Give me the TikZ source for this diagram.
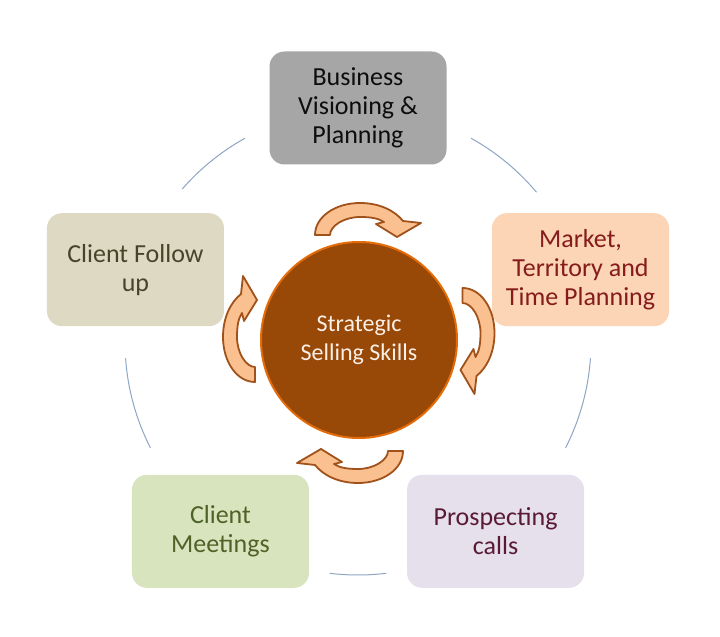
\documentclass[tikz,border=0pt]{standalone}
\usepackage{fontspec}
\usepackage{tikz}
\setmainfont{Carlito}

\definecolor{visfill}{HTML}{A6A6A6}
\definecolor{vistext}{HTML}{0D0D0D}
\definecolor{mktfill}{HTML}{FBD5B5}
\definecolor{mkttext}{HTML}{861B1B}
\definecolor{prosfill}{HTML}{E5E0EC}
\definecolor{prostext}{HTML}{5A1A35}
\definecolor{meetfill}{HTML}{D7E4BD}
\definecolor{meettext}{HTML}{4F6228}
\definecolor{follfill}{HTML}{DDD9C3}
\definecolor{folltext}{HTML}{494429}
\definecolor{hubfill}{HTML}{984807}
\definecolor{hubedge}{HTML}{E36C09}
\definecolor{hubtext}{HTML}{FBEFE6}
\definecolor{turnfill}{HTML}{FAC090}
\definecolor{turnedge}{HTML}{A0521A}
\definecolor{ringblue}{HTML}{8EA6C4}

\tikzset{
  stage/.style={rounded corners=15pt,minimum width=177pt,minimum height=113pt,
    inner sep=3pt,align=center,font=\fontsize{26}{29}\selectfont},
  core/.style={circle,minimum size=196pt,fill=hubfill,draw=hubedge,line width=2pt,
    align=center,text=hubtext,font=\fontsize{24}{28}\selectfont},
  ring/.style={draw=ringblue,line width=1pt},
  turn/.style={fill=turnfill,draw=turnedge,line width=1.8pt,line join=round}
}

% one curved arrow, centred at (#1,#2), turned by #3
\newcommand{\turnarrow}[3]{%
  \begin{scope}[shift={(#1,#2)},rotate=#3]
    \filldraw[turn] (-52,-15) .. controls (-52,3) and (-32,17) .. (-7,17)
      .. controls (13,17) and (28,9) .. (36,-1)
      -- (54,-3) -- (30,-17) -- (9,-4) -- (17,-2)
      .. controls (11,2) and (3,3) .. (-7,3)
      .. controls (-23,3) and (-37,-6) .. (-37,-15) -- cycle;
  \end{scope}}

\begin{document}
\begin{tikzpicture}[x=1pt,y=1pt]
  \useasboundingbox[fill=white] (0,0) rectangle (720,637);
  \coordinate (hub) at (358,295);

  % ring behind the stages
  \foreach \a/\b in {40/61,119/139,184/207,263/277,333/356}
    \draw[ring] ([shift={(\a:233)}]hub) arc[start angle=\a,end angle=\b,radius=233];

  % stages
  \node[stage,fill=visfill,text=vistext] (vision) at ([shift={(90:234)}]hub)
    {Business\\Visioning \&\\Planning};
  \node[stage,fill=mktfill,text=mkttext] (market) at ([shift={(18:234)}]hub)
    {Market,\\Territory and\\Time Planning};
  \node[stage,fill=prosfill,text=prostext] (prospect) at ([shift={(-54:234)}]hub)
    {Prospecting\\calls};
  \node[stage,fill=meetfill,text=meettext] (meeting) at ([shift={(-126:234)}]hub)
    {Client\\Meetings};
  \node[stage,fill=follfill,text=folltext] (follow) at ([shift={(162:234)}]hub)
    {Client Follow\\up};

  % centre
  \node[core] (core) at (359,297) {\raisebox{-5pt}{\shortstack{Strategic\\[5pt]Selling Skills}}};

  % arrows round the centre
  \turnarrow{367}{417}{0}
  \turnarrow{477.5}{297}{-90}
  \turnarrow{351}{171}{180}
  \turnarrow{240}{307}{90}
\end{tikzpicture}
\end{document}
